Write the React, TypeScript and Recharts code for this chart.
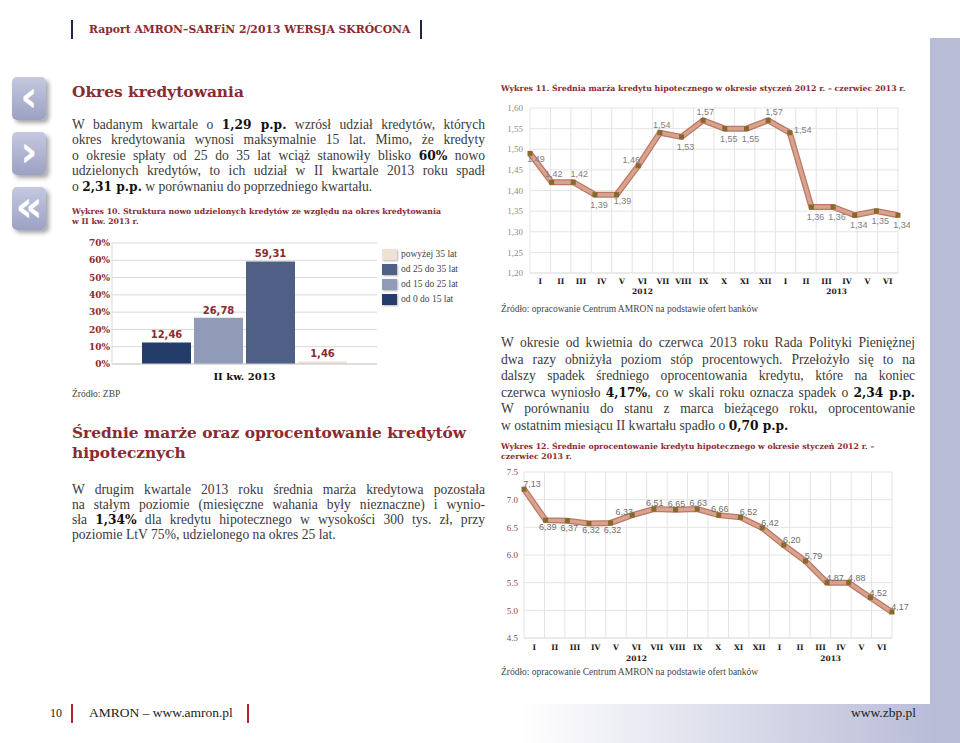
import React from "react";
import {
  BarChart,
  Bar,
  LineChart,
  Line,
  XAxis,
  YAxis,
  CartesianGrid,
  LabelList,
} from "recharts";

// Wykres 10 - struktura wg okresu kredytowania
const termQuarter = "II kw. 2013";
const termNames = ["od 0 do 15 lat", "od 15 do 25 lat", "od 25 do 35 lat", "powyżej 35 lat"];
const termShares = [12.46, 26.78, 59.31, 1.46];
const shareTicks = [0, 10, 20, 30, 40, 50, 60, 70];

// Wykres 11 / 12 - miesiące
const months = ["I", "II", "III", "IV", "V", "VI", "VII", "VIII", "IX", "X", "XI", "XII", "I", "II", "III", "IV", "V", "VI"];
const years = ["2012", "2013"];

// Wykres 11 - średnia marża
const marginValues = [1.49, 1.42, 1.42, 1.39, 1.39, 1.46, 1.54, 1.53, 1.57, 1.55, 1.55, 1.57, 1.54, 1.36, 1.36, 1.34, 1.35, 1.34];
const marginTicks = [1.2, 1.25, 1.3, 1.35, 1.4, 1.45, 1.5, 1.55, 1.6];

const rateValues = [7.19, 6.63, 6.62, 6.57, 6.58, 6.72, 6.83, 6.82, 6.83, 6.72, 6.68, 6.49, 6.18, 5.89, 5.5, 5.5, 5.23, 4.97];
const rateLabels = ["7,13", "6,39", "6,37", "6,32", "6,32", "6,33", "6,51", "6,65", "6,63", "6,66", "6,52", "6,42", "6,20", "5,79", "4,87", "4,88", "4,52", "4,17"];
const rateTicks = [4.5, 5, 5.5, 6, 6.5, 7, 7.5];

// styling
const RED = "#8b2a30";
const TEXT = "#3a3a3a";
const termColors = ["#243c69", "#8f9bb7", "#4f5f86", "#efe2d4"];
const marginPlace = ["br", "t", "tr", "b", "br", "tl", "t", "b", "t", "b", "b", "tr", "r", "b", "b", "b", "b", "b"];
const ratePlace = ["tr", "b", "b", "b", "b", "tl", "t", "t", "t", "t", "tr", "tr", "tr", "tr", "tr", "tr", "tr", "tr"];

const B = ({ children }: { children: React.ReactNode }) => (
  <b style={{ fontFamily: "'DejaVu Serif', serif", fontSize: "0.9em", color: "#111" }}>{children}</b>
);

function Para({ lines, left, top, width, lh, size }: any) {
  return (
    <div style={{ position: "absolute", left, top, width, fontSize: size, lineHeight: lh + "px", color: TEXT }}>
      {lines.map((ln: React.ReactNode, i: number) => {
        const last = i === lines.length - 1;
        return (
          <div
            key={i}
            style={{
              height: lh,
              whiteSpace: "nowrap",
              textAlign: last ? "left" : "justify",
              textAlignLast: last ? "left" : "justify",
            }}
          >
            {ln}
          </div>
        );
      })}
    </div>
  );
}

function TermChart() {
  const row: Record<string, string | number> = { name: termQuarter };
  termNames.forEach((n, i) => (row[n] = termShares[i]));
  return (
    <BarChart
      width={325}
      height={160}
      data={[row]}
      margin={{ top: 8, right: 8, bottom: 9, left: 7 }}
      barGap={3}
    >
      <CartesianGrid vertical={false} stroke="#d9d9d9" />
      <XAxis
        dataKey="name"
        height={22}
        tickSize={0}
        tickMargin={9}
        axisLine={{ stroke: "#cfcfcf" }}
        tick={{ fill: "#111", fontSize: 10, fontWeight: 700, fontFamily: "'DejaVu Serif', serif" }}
      />
      <YAxis
        width={45}
        domain={[0, 70]}
        ticks={shareTicks}
        interval={0}
        tickSize={0}
        tickMargin={2}
        axisLine={{ stroke: "#d9d9d9" }}
        tickFormatter={(v: number) => `${v}%`}
        tick={{ fill: RED, fontSize: 9, fontWeight: 700, fontFamily: "'DejaVu Serif', serif" }}
      />
      {termNames.map((n, i) => (
        <Bar key={n} dataKey={n} fill={termColors[i]} barSize={49} isAnimationActive={false}>
          <LabelList
            dataKey={n}
            position="top"
            offset={4}
            formatter={(v: any) => String(v).replace(".", ",")}
            style={{ fill: RED, fontSize: 10, fontWeight: 700, fontFamily: "'DejaVu Sans', sans-serif" }}
          />
        </Bar>
      ))}
    </BarChart>
  );
}

function MonthChart(props: any) {
  const { values, labels, place, offs, ticks, fmt, width, height, margin, yWidth, yTickMargin, yTickColor, monthH, monthMargin, yearH, yearMargin, labelColor } = props;
  const n = months.length;
  const k = (n - 1) / n; // band units -> point units
  const data = values.map((v: number, i: number) => ({ i, v, label: labels[i] }));
  const monthTicks = months.map((_, i) => (i + 0.5) * k);
  const yearTicks = [5.5 * k, 15 * k];
  const axisFont = { fill: "#1a1a1a", fontSize: 7.5, fontWeight: 700, fontFamily: "'DejaVu Serif', serif" };
  return (
    <LineChart width={width} height={height} data={data} margin={margin}>
      <CartesianGrid
        stroke="#e4e4e4"
        verticalCoordinatesGenerator={({ offset }: any) =>
          Array.from({ length: n + 1 }, (_, j) => offset.left + (j * offset.width) / n)
        }
      />
      <XAxis
        dataKey="i"
        type="number"
        domain={[0, n - 1]}
        ticks={monthTicks}
        interval={0}
        height={monthH}
        tickSize={0}
        tickMargin={monthMargin}
        axisLine={{ stroke: "#e4e4e4" }}
        tickFormatter={(v: number) => months[Math.round(v / k - 0.5)]}
        tick={axisFont}
      />
      <XAxis
        xAxisId="y"
        dataKey="i"
        type="number"
        domain={[0, n - 1]}
        ticks={yearTicks}
        interval={0}
        height={yearH}
        tickSize={0}
        tickMargin={yearMargin}
        axisLine={false}
        tickFormatter={(v: number) => years[v / k < 12 ? 0 : 1]}
        tick={axisFont}
      />
      <YAxis
        width={yWidth}
        domain={[ticks[0], ticks[ticks.length - 1]]}
        ticks={ticks}
        interval={0}
        tickSize={0}
        tickMargin={yTickMargin}
        axisLine={false}
        tickFormatter={fmt}
        tick={{ fill: yTickColor, fontSize: 9, fontFamily: "'Liberation Serif', serif" }}
      />
      <Line
        type="linear"
        dataKey="v"
        stroke="#b97866"
        strokeWidth={6}
        dot={false}
        activeDot={false}
        isAnimationActive={false}
      />
      <Line
        type="linear"
        dataKey="v"
        stroke="#d9a28c"
        strokeWidth={3.5}
        isAnimationActive={false}
        activeDot={false}
        dot={(p: any) => (
          <rect key={p.index} x={p.cx - 2.5} y={p.cy - 2.5} width={5} height={5} fill="#87692b" />
        )}
      >
        <LabelList
          dataKey="label"
          content={(p: any) => {
            const [dx, dy] = offs[place[p.index]];
            return (
              <text
                key={p.index}
                x={p.x + dx}
                y={p.y + dy}
                textAnchor="middle"
                dominantBaseline="central"
                fill={labelColor}
                fontSize={9}
                fontFamily="'Liberation Sans', sans-serif"
              >
                {p.value}
              </text>
            );
          }}
        />
      </Line>
    </LineChart>
  );
}

const Button = ({ top, glyph }: { top: number; glyph: string }) => (
  <div
    style={{
      position: "absolute",
      left: 12,
      top,
      width: 34,
      height: 43,
      borderRadius: 5,
      background: "linear-gradient(#c5c8df, #9ca1c3)",
      boxShadow: "3px 3px 4px rgba(0,0,0,0.35)",
      color: "#fff",
      fontFamily: "'DejaVu Sans', sans-serif",
      fontWeight: 700,
      fontSize: 42,
      lineHeight: "40px",
      textAlign: "center",
    }}
  >
    {glyph}
  </div>
);

const Caption = ({ left, top, children }: any) => (
  <div
    style={{
      position: "absolute",
      left,
      top,
      color: RED,
      fontFamily: "'DejaVu Serif', serif",
      fontWeight: 700,
      fontSize: 7.8,
      lineHeight: "10px",
      whiteSpace: "nowrap",
    }}
  >
    {children}
  </div>
);

const Source = ({ left, top, children }: any) => (
  <div style={{ position: "absolute", left, top, fontSize: 9.5, color: "#444", whiteSpace: "nowrap", lineHeight: "12px" }}>
    {children}
  </div>
);

export default function App() {
  const legendOrder = termNames.map((n, i) => ({ n, c: termColors[i] })).reverse();
  const title = {
    position: "absolute" as const,
    color: RED,
    fontFamily: "'DejaVu Serif', serif",
    fontWeight: 700,
    fontSize: 15.4,
    lineHeight: "20px",
    whiteSpace: "nowrap" as const,
  };
  return (
    <div
      style={{
        position: "absolute",
        left: 0,
        top: 0,
        width: 960,
        height: 743,
        overflow: "hidden",
        background: "#fff",
        fontFamily: "'Liberation Serif', serif",
      }}
    >
      {/* header */}
      <div style={{ position: "absolute", left: 71, top: 20, width: 2, height: 19, background: "#1c2746" }} />
      <div style={{ position: "absolute", left: 420, top: 20, width: 2, height: 19, background: "#1c2746" }} />
      <div
        style={{
          position: "absolute",
          left: 89,
          top: 22,
          color: RED,
          fontFamily: "'DejaVu Serif', serif",
          fontWeight: 700,
          fontSize: 10.8,
          lineHeight: "16px",
          whiteSpace: "nowrap",
        }}
      >
        Raport AMRON–SARFiN 2/2013 WERSJA SKRÓCONA
      </div>

      {/* right band and footer */}
      <div style={{ position: "absolute", left: 930, top: 38, width: 30, height: 705, background: "#b9bcd7" }} />
      <div
        style={{
          position: "absolute",
          left: 480,
          top: 704,
          width: 480,
          height: 39,
          background: "linear-gradient(to right, #ffffff 8%, #b9bcd7 95%)",
        }}
      />
      <div style={{ position: "absolute", left: 50, top: 705, fontSize: 12, color: "#222", lineHeight: "16px" }}>10</div>
      <div style={{ position: "absolute", left: 71, top: 704, width: 1.5, height: 19, background: "#b3202a" }} />
      <div style={{ position: "absolute", left: 89, top: 705, fontSize: 13.5, color: "#222", lineHeight: "16px", whiteSpace: "nowrap" }}>
        AMRON – www.amron.pl
      </div>
      <div style={{ position: "absolute", left: 247, top: 704, width: 1.5, height: 19, background: "#b3202a" }} />
      <div style={{ position: "absolute", left: 851, top: 705, fontSize: 13.5, color: "#222", lineHeight: "16px" }}>www.zbp.pl</div>

      <Button top={77} glyph="‹" />
      <Button top={132} glyph="›" />
      <Button top={187} glyph="«" />

      {/* left column */}
      <div style={{ ...title, left: 72, top: 82 }}>Okres kredytowania</div>
      <Para
        left={72}
        top={117}
        width={413}
        lh={15.4}
        size={13.6}
        lines={[
          <>W badanym kwartale o <B>1,29 p.p.</B> wzrósł udział kredytów, których</>,
          <>okres kredytowania wynosi maksymalnie 15 lat. Mimo, że kredyty</>,
          <>o okresie spłaty od 25 do 35 lat wciąż stanowiły blisko <B>60%</B> nowo</>,
          <>udzielonych kredytów, to ich udział w II kwartale 2013 roku spadł</>,
          <>o <B>2,31 p.p.</B> w porównaniu do poprzedniego kwartału.</>,
        ]}
      />
      <Caption left={72} top={207}>
        Wykres 10. Struktura nowo udzielonych kredytów ze względu na okres kredytowania
        <br />w II kw. 2013 r.
      </Caption>
      <div style={{ position: "absolute", left: 60, top: 235 }}>
        <TermChart />
      </div>
      {legendOrder.map((d, i) => (
        <div key={d.n} style={{ position: "absolute", left: 382, top: 248 + i * 15, height: 12, display: "flex", alignItems: "center" }}>
          <div style={{ width: 15, height: 11, background: d.c, boxShadow: "1px 1px 2px rgba(0,0,0,0.3)" }} />
          <span style={{ marginLeft: 4, fontSize: 9.5, color: "#444", whiteSpace: "nowrap" }}>{d.n}</span>
        </div>
      ))}
      <Source left={72} top={388}>Źródło: ZBP</Source>

      <div style={{ ...title, left: 72, top: 423 }}>
        Średnie marże oraz oprocentowanie kredytów
        <br />
        hipotecznych
      </div>
      <Para
        left={72}
        top={482}
        width={413}
        lh={15}
        size={13.6}
        lines={[
          <>W drugim kwartale 2013 roku średnia marża kredytowa pozostała</>,
          <>na stałym poziomie (miesięczne wahania były nieznaczne) i wynio-</>,
          <>sła <B>1,34%</B> dla kredytu hipotecznego w wysokości 300 tys. zł, przy</>,
          <>poziomie LtV 75%, udzielonego na okres 25 lat.</>,
        ]}
      />

      {/* right column */}
      <Caption left={501} top={84}>
        Wykres 11. Średnia marża kredytu hipotecznego w okresie styczeń 2012 r. – czerwiec 2013 r.
      </Caption>
      <div style={{ position: "absolute", left: 480, top: 95 }}>
        <MonthChart
          values={marginValues}
          labels={marginValues.map((v) => v.toFixed(2).replace(".", ","))}
          place={marginPlace}
          offs={{ t: [2, -8], b: [4, 10], tr: [6, -8], br: [6, 6], tl: [-7, -6], r: [13, -3] }}
          ticks={marginTicks}
          fmt={(v: number) => v.toFixed(2).replace(".", ",")}
          width={430}
          height={220}
          margin={{ top: 13, right: 12, bottom: 15, left: 10 }}
          yWidth={40}
          yTickMargin={7}
          yTickColor="#8c8c8c"
          monthH={13}
          monthMargin={6}
          yearH={14}
          yearMargin={3}
          labelColor="#7e7e7e"
        />
      </div>
      <Source left={501} top={303}>Źródło: opracowanie Centrum AMRON na podstawie ofert banków</Source>

      <Para
        left={501}
        top={335}
        width={414}
        lh={16.6}
        size={13.6}
        lines={[
          <>W okresie od kwietnia do czerwca 2013 roku Rada Polityki Pieniężnej</>,
          <>dwa razy obniżyła poziom stóp procentowych. Przełożyło się to na</>,
          <>dalszy spadek średniego oprocentowania kredytu, które na koniec</>,
          <>czerwca wyniosło <B>4,17%</B>, co w skali roku oznacza spadek o <B>2,34 p.p.</B></>,
          <>W porównaniu do stanu z marca bieżącego roku, oprocentowanie</>,
          <>w ostatnim miesiącu II kwartału spadło o <B>0,70 p.p.</B></>,
        ]}
      />
      <Caption left={501} top={442}>
        Wykres 12. Średnie oprocentowanie kredytu hipotecznego w okresie styczeń 2012 r. –
        <br />
        czerwiec 2013 r.
      </Caption>
      <div style={{ position: "absolute", left: 480, top: 462 }}>
        <MonthChart
          values={rateValues}
          labels={rateLabels}
          place={ratePlace}
          offs={{ t: [1, -6], b: [2, 7], tr: [8, -5], tl: [-8, -3] }}
          ticks={rateTicks}
          fmt={(v: number) => v.toFixed(1)}
          width={430}
          height={205}
          margin={{ top: 10, right: 18, bottom: 4, left: 10 }}
          yWidth={34}
          yTickMargin={6}
          yTickColor="#8a4655"
          monthH={12}
          monthMargin={7}
          yearH={13}
          yearMargin={6}
          labelColor="#6e6e6e"
        />
      </div>
      <Source left={501} top={666}>Źródło: opracowanie Centrum AMRON na podstawie ofert banków</Source>
    </div>
  );
}
